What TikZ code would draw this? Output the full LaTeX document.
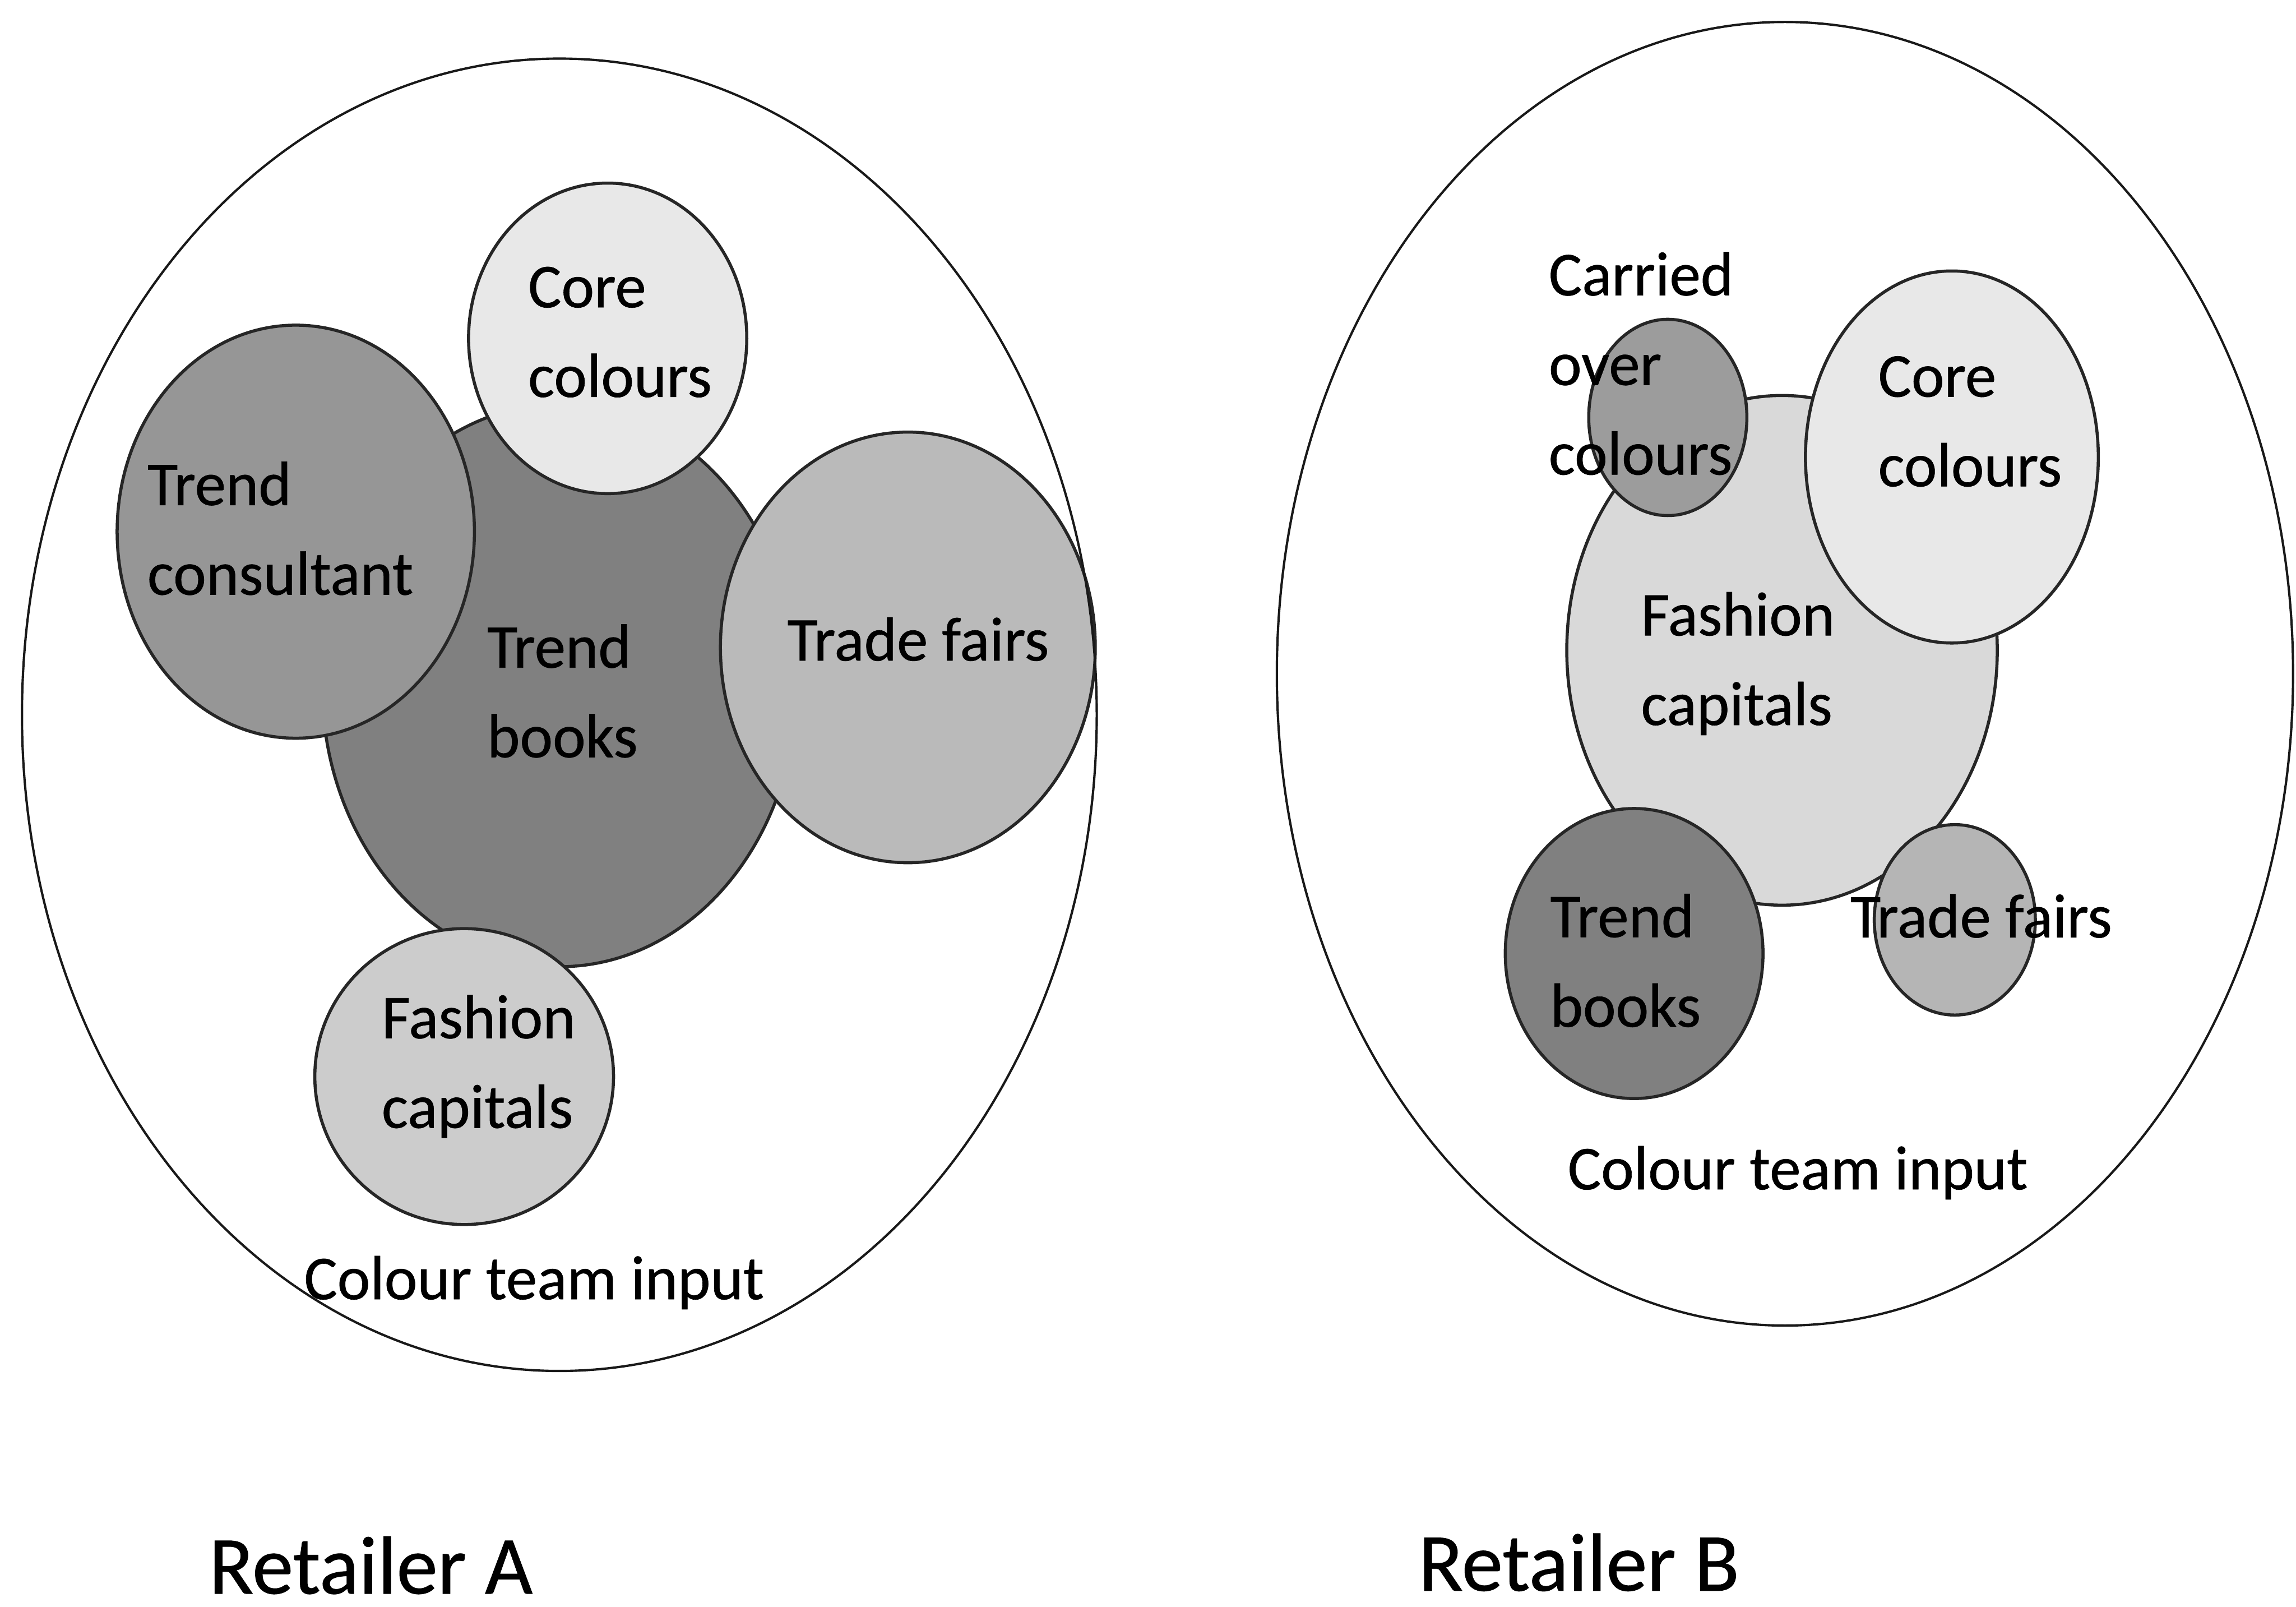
\documentclass[tikz,border=0pt]{standalone}
\usepackage{fontspec}
\setmainfont[FakeBold=0.6]{Carlito}
\begin{document}
\begin{tikzpicture}[x=0.01cm,y=-0.01cm,
  blob/.style={draw=black!85, line width=0.6pt},
  group/.style={draw=black!90, line width=0.45pt},
  lbl/.style={anchor=base west, inner sep=0pt, align=left,
    font=\fontsize{12.1}{17.4}\selectfont},
  title/.style={anchor=base west, inner sep=0pt,
    font=\fontsize{16}{19}\selectfont}]
\definecolor{gDark}{gray}{0.50}
\definecolor{gMid}{gray}{0.59}
\definecolor{gTrade}{gray}{0.73}
\definecolor{gLight}{gray}{0.91}
\definecolor{gFash}{gray}{0.80}
\definecolor{gFashB}{gray}{0.85}
\definecolor{gCarry}{gray}{0.61}
\definecolor{gSmall}{gray}{0.71}

\useasboundingbox (0,0) rectangle (1568,1097);
\fill[white] (0,0) rectangle (1568,1097);

% ---------- Retailer A ----------
\fill[gDark,blob] (382,468) ellipse [x radius=162, y radius=192];
\fill[gMid,blob] (202,363) ellipse [x radius=122, y radius=141];
\fill[gLight,blob] (415,231) ellipse [x radius=95, y radius=106];
\fill[gTrade,blob] (620,442) ellipse [x radius=128, y radius=147];
\fill[gFash,blob] (317,735) ellipse [x radius=102, y radius=101];
\draw[group] (382,488) ellipse [x radius=367, y radius=448];

% multi-line labels are placed by the baseline of their last line
\node[lbl] (a-core) at (360,271) {Core\\colours};
\node[lbl] (a-cons) at (100,406) {Trend\\consultant};
\node[lbl] (a-books) at (332,517) {Trend\\books};
\node[lbl] (a-fairs) at (537,451) {Trade fairs};
\node[lbl] (a-fash) at (260,770) {Fashion\\capitals};
\node[lbl] (a-team) at (207,887) {Colour team input};
\node[title] (a-title) at (142,1088) {Retailer A};

% ---------- Retailer B ----------
\fill[gFashB,blob] (1217,444) ellipse [x radius=147, y radius=174];
\fill[gCarry,blob] (1139,285) ellipse [x radius=54, y radius=67];
\fill[gLight,blob] (1333,312) ellipse [x radius=100, y radius=127];
\fill[gDark,blob] (1116,651) ellipse [x radius=88, y radius=99];
\fill[gSmall,blob] (1335,628) ellipse [x radius=55, y radius=65];
\draw[group] (1219,460) ellipse [x radius=347, y radius=445];

\node[lbl] (b-carry) at (1057,324) {Carried\\over\\colours};
\node[lbl] (b-core) at (1282,332) {Core\\colours};
\node[lbl] (b-fash) at (1120,495) {Fashion\\capitals};
\node[lbl] (b-books) at (1058,701) {Trend\\books};
\node[lbl] (b-fairs) at (1263,640) {Trade fairs};
\node[lbl] (b-team) at (1070,812) {Colour team input};
\node[title] (b-title) at (968,1086) {Retailer B};
\end{tikzpicture}
\end{document}
